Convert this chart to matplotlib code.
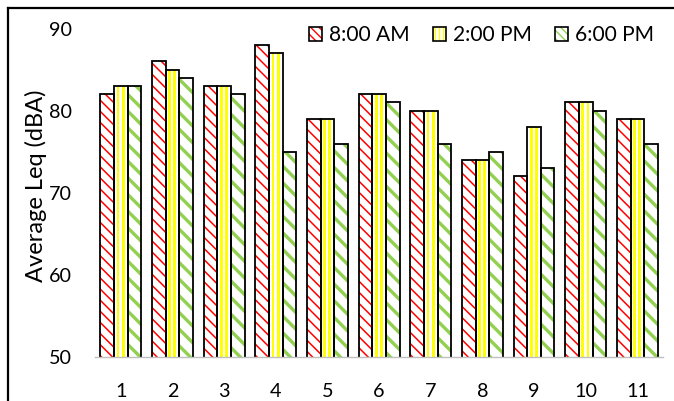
import matplotlib
matplotlib.use("Agg")
import matplotlib.pyplot as plt
import numpy as np
from matplotlib.patches import Rectangle
from matplotlib.lines import Line2D

plt.rcParams['font.family'] = ['Lato', 'DejaVu Sans']

sites = ['1', '2', '3', '4', '5', '6', '7', '8', '9', '10', '11']
am8 = [82, 86, 83, 88, 79, 82, 80, 74, 72, 81, 79]
pm2 = [83, 85, 83, 87, 79, 82, 80, 74, 78, 81, 79]
pm6 = [83, 84, 82, 75, 76, 81, 76, 75, 73, 80, 76]
series_labels = ['8:00 AM', '2:00 PM', '6:00 PM']
y_title = 'Average Leq (dBA)'

RED = '#FF0000'
YELLOW = '#FFFF00'
GREEN = '#92D050'

DPI = 100
fig = plt.figure(figsize=(6.74, 4.01), dpi=DPI)
ax = fig.add_axes([0.141, 0.1097, 0.843, 0.819])
renderer = fig.canvas.get_renderer()


def size_for_width(s, width_px, rotation=0):
    """Font size (pt) at which string s spans width_px pixels."""
    t = fig.text(0, 0, s, fontsize=10, rotation=rotation)
    bb = t.get_window_extent(renderer)
    t.remove()
    span = bb.height if rotation else bb.width
    return 10 * width_px / span


tick_fs = size_for_width('10', 23)
legend_fs = size_for_width('2:00 PM', 79)
title_fs = size_for_width(y_title, 193, rotation=90)

x = np.arange(len(sites))
w = 0.263
edge_lw = 1.3


def hatched(xpos, vals, color, hatch, hlw):
    with plt.rc_context({'hatch.linewidth': hlw}):
        bars = ax.bar(xpos, vals, width=w, color='white', edgecolor=color,
                      linewidth=0, hatch=hatch, zorder=2)
    for b in bars:
        if hasattr(b, 'set_hatch_linewidth'):
            b.set_hatch_linewidth(hlw)
    return bars


def outline(xpos, vals):
    return ax.bar(xpos, vals, width=w, fill=False, edgecolor='black',
                  linewidth=edge_lw, zorder=4)


# 8:00 AM - red diagonal pattern
hatched(x - w, am8, RED, '\\\\\\', 1.1)
outline(x - w, am8)

# 2:00 PM - yellow vertical stripes
ax.bar(x, pm2, width=w, color='white', linewidth=0, zorder=2)
for off in (-0.055, 0.045):
    ax.bar(x + off, pm2, width=0.055, color=YELLOW, linewidth=0, zorder=3)
outline(x, pm2)

# 6:00 PM - green diagonal stripes
hatched(x + w, pm6, GREEN, '\\\\', 2.4)
outline(x + w, pm6)

ax.set_ylim(50, 90)
ax.set_xlim(-0.5, len(sites) - 0.5)
ax.set_yticks([50, 60, 70, 80, 90])
ax.set_xticks(x)
ax.set_xticklabels(sites)
ax.tick_params(axis='both', length=0, labelsize=tick_fs, colors='black')
ax.tick_params(axis='y', pad=16.5)
ax.tick_params(axis='x', pad=19)
for s in ('left', 'top', 'right'):
    ax.spines[s].set_visible(False)
ax.spines['bottom'].set_color('#BFBFBF')
ax.spines['bottom'].set_linewidth(1.0)
ax.spines['bottom'].set_zorder(5)
ax.set_ylabel(y_title, fontsize=title_fs)
ax.yaxis.set_label_coords(-0.084, 0.52)

# legend with pattern + black frame swatches
with plt.rc_context({'hatch.linewidth': 1.1}):
    h1 = Rectangle((0, 0), 1, 1, facecolor='white', edgecolor=RED, hatch='\\\\\\\\', linewidth=0)
with plt.rc_context({'hatch.linewidth': 2.4}):
    h3 = Rectangle((0, 0), 1, 1, facecolor='white', edgecolor=GREEN, hatch='\\\\\\\\', linewidth=0)
with plt.rc_context({'hatch.linewidth': 2.0}):
    h2 = Rectangle((0, 0), 1, 1, facecolor='white', edgecolor=YELLOW, hatch='||||', linewidth=0)
for h, hlw in ((h1, 1.1), (h2, 2.0), (h3, 2.4)):
    if hasattr(h, 'set_hatch_linewidth'):
        h.set_hatch_linewidth(hlw)
frames = [Rectangle((0, 0), 1, 1, fill=False, edgecolor='black', linewidth=1.2) for _ in range(3)]
f_px = legend_fs * DPI / 72
leg = ax.legend([(h1, frames[0]), (h2, frames[1]), (h3, frames[2])], series_labels,
                loc='upper right', bbox_to_anchor=(0.983, 1.01), ncol=3, frameon=False,
                fontsize=legend_fs, handlelength=13 / f_px, handleheight=13 / f_px,
                handletextpad=7 / f_px, columnspacing=23 / f_px,
                borderpad=0, borderaxespad=0)

# partial frame (left and top edges) around the figure
x0 = 8 / 674
y1 = 1 - 8 / 401
fig.add_artist(Line2D([x0, x0], [0, y1], transform=fig.transFigure, color='black', linewidth=1.6))
fig.add_artist(Line2D([x0, 1], [y1, y1], transform=fig.transFigure, color='black', linewidth=1.6))

fig.savefig('out.png', dpi=DPI)
